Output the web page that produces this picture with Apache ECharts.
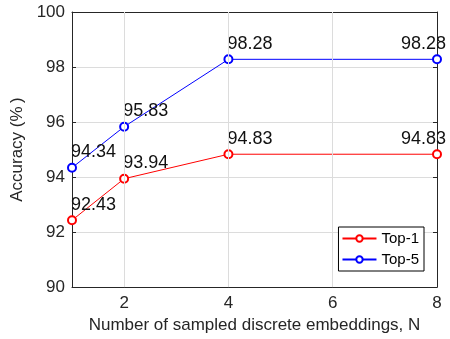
<!DOCTYPE html>
<html>
<head>
<meta charset="utf-8">
<script src="https://cdn.jsdelivr.net/npm/echarts@6/dist/echarts.min.js"></script>
<style>
  html, body { margin: 0; padding: 0; background: #fff; }
  #chart { width: 450px; height: 339px; }
</style>
</head>
<body>
<div id="chart"></div>
<script>
// 数据
var nValues = [1, 2, 4, 8];
var top1 = [92.43, 93.94, 94.83, 94.83];
var top5 = [94.34, 95.83, 98.28, 98.28];
var xTicks = [2, 4, 6, 8];

var textColor = '#262626';
var fontFamily = 'Liberation Sans, Arial, sans-serif';

function pairs(ys) {
    return nValues.map(function (x, i) {
        var item = { value: [x, ys[i]] };
        if (i === nValues.length - 1) {
            // 最后一个点的标签靠右对齐，避免超出画布
            item.label = { position: [14, -10.5], align: 'right' };
        }
        return item;
    });
}

function makeSeries(name, ys, color) {
    return {
        name: name,
        type: 'line',
        data: pairs(ys),
        symbol: 'emptyCircle',
        symbolSize: 8,
        showAllSymbol: true,
        lineStyle: { color: color, width: 1 },
        itemStyle: { color: color, borderWidth: 1 },
        label: {
            show: true,
            position: [4, -10.5],
            align: 'left',
            verticalAlign: 'middle',
            fontSize: 18,
            fontFamily: fontFamily,
            color: '#111',
            formatter: function (p) { return p.value[1].toFixed(2); }
        },
        emphasis: { disabled: true },
        animation: false
    };
}

var myChart = echarts.init(document.getElementById('chart'));
myChart.setOption({
    animation: false,
    grid: { left: 72, right: 13, top: 12, bottom: 48, show: false },
    legend: {
        right: 26,
        bottom: 68,
        orient: 'vertical',
        itemGap: 6,
        itemWidth: 34,
        itemHeight: 8,
        backgroundColor: '#fff',
        borderColor: '#000',
        borderWidth: 1,
        borderRadius: 0,
        padding: [4, 5, 4, 3],
        textStyle: { fontSize: 15, fontFamily: fontFamily, color: '#000' },
        data: ['Top-1', 'Top-5']
    },
    xAxis: [{
        type: 'value',
        min: 1,
        max: 8,
        name: 'Number of sampled discrete embeddings, N',
        nameLocation: 'middle',
        nameGap: 28,
        nameTextStyle: { fontSize: 17, fontFamily: fontFamily, color: textColor },
        axisLine: { onZero: false, lineStyle: { color: textColor, width: 1 } },
        axisTick: { inside: true, length: 4, customValues: xTicks, lineStyle: { color: textColor } },
        axisLabel: { customValues: xTicks, fontSize: 17, fontFamily: fontFamily, color: textColor, margin: 8 },
        splitLine: { show: false }
    }, {
        type: 'value',
        position: 'top',
        min: 1,
        max: 8,
        axisLine: { onZero: false, lineStyle: { color: textColor, width: 1 } },
        axisTick: { inside: true, length: 4, customValues: xTicks, lineStyle: { color: textColor } },
        axisLabel: { show: false },
        splitLine: { show: false }
    }],
    yAxis: [{
        type: 'value',
        min: 90,
        max: 100,
        interval: 2,
        name: 'Accuracy (%\u2009)',
        nameLocation: 'middle',
        nameGap: 42,
        nameTextStyle: { fontSize: 17, fontFamily: fontFamily, color: textColor },
        axisLine: { show: true, onZero: false, lineStyle: { color: textColor, width: 1 } },
        axisTick: { show: true, inside: true, length: 4, lineStyle: { color: textColor } },
        axisLabel: { fontSize: 17, fontFamily: fontFamily, color: textColor, margin: 7 },
        splitLine: { show: true, lineStyle: { color: '#dcdcdc', width: 1 } }
    }, {
        type: 'value',
        position: 'right',
        min: 90,
        max: 100,
        interval: 2,
        axisLine: { show: true, onZero: false, lineStyle: { color: textColor, width: 1 } },
        axisTick: { show: true, inside: true, length: 4, lineStyle: { color: textColor } },
        axisLabel: { show: false },
        splitLine: { show: false }
    }],
    series: [
        makeSeries('Top-1', top1, '#ff0000'),
        makeSeries('Top-5', top5, '#0000ff'),
        {
            // x方向网格线
            type: 'line',
            data: [],
            markLine: {
                silent: true,
                symbol: 'none',
                label: { show: false },
                lineStyle: { color: '#dcdcdc', type: 'solid', width: 1 },
                data: xTicks.slice(0, 3).map(function (v) { return { xAxis: v }; })
            },
            z: 0
        }
    ]
});
window.onresize = myChart.resize;
</script>
</body>
</html>
